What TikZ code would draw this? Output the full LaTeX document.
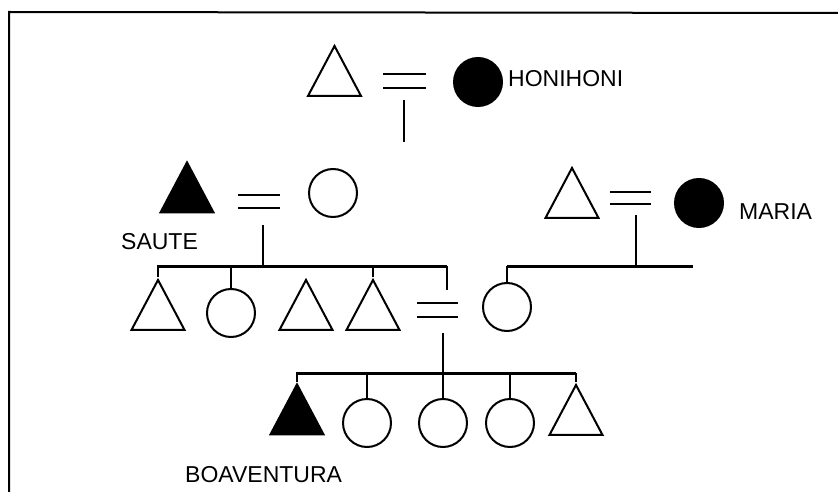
\documentclass[tikz,border=0pt]{standalone}
\usepackage{fontspec}
\setmainfont{Liberation Sans}
\usetikzlibrary{shapes.geometric}
\begin{document}
\begin{tikzpicture}[x=1pt,y=-1pt,
  tri/.style={draw, isosceles triangle, isosceles triangle stretches, shape border rotate=90,
    minimum width=53pt, minimum height=50pt, inner sep=0pt, line width=2pt, line join=miter},
  ftri/.style={tri, fill=black},
  circ/.style={draw, circle, minimum size=48pt, inner sep=0pt, line width=2pt},
  fcirc/.style={circ, fill=black},
  lbl/.style={font=\fontsize{23}{27}\selectfont, inner sep=0pt, anchor=west},
  ln/.style={line width=2.3pt},
  bar/.style={line width=3pt},
  eq/.style={line width=2.4pt}]
\useasboundingbox (0,0) rectangle (838,492);
% frame
\draw[line width=2pt] (9,492) -- (9,12) -- (838,13);

% generation 1
\node[tri] (hf) at (334.5,80) {};
\node[fcirc] (hm) at (478,82) {};
\node[lbl] (hl) at (508,79) {HONIHONI};
\draw[eq] (383,74) -- (426,74) (383,88) -- (426,88);
\coordinate (hd1) at (404,100);
\coordinate (hd2) at (404,142);
\draw[ln] (hd1) -- (hd2);

% generation 2 : Saute couple
\node[ftri] (sf) at (187,196.5) {};
\node[circ] (sm) at (333,193) {};
\node[lbl] (sl) at (121,242) {SAUTE};
\draw[eq] (238,195) -- (280,195) (238,208) -- (280,208);
\coordinate (sd) at (263,225);
\coordinate (b1l) at (157,266);
\coordinate (b1r) at (447,266);
\coordinate (b1d) at (447,290);
\draw[ln] (sd) -- (sd |- b1l);
\draw[bar] (b1l) -- (b1r);
\draw[ln] (b1r) -- (b1d);

% Maria couple
\node[tri] (mf) at (572,202) {};
\node[fcirc] (mm) at (699,203) {};
\node[lbl] (ml) at (739,212) {MARIA};
\draw[eq] (610,192) -- (651,192) (610,204) -- (651,204);
\coordinate (md) at (636,215);
\coordinate (b2l) at (507,266);
\coordinate (b2r) at (693,266);
\draw[ln] (md) -- (md |- b2r);
\draw[bar] (b2l) -- (b2r);

% generation 3
\node[tri] (c1) at (158,314) {};
\node[circ] (c2) at (231,313) {};
\node[tri] (c3) at (306,314) {};
\node[tri] (c4) at (373,314) {};
\node[circ] (c5) at (507,307) {};
\draw[ln] (c1.north) -- (c1.north |- b1l);
\draw[ln] (c2.north) -- (c2.north |- b1l);
\draw[ln] (c4.north) -- (c4.north |- b1l);
\draw[ln] (c5.north) -- (b2l);
\draw[eq] (417,303) -- (458,303) (417,317) -- (458,317);
\coordinate (cd) at (443,333);
\coordinate (b3l) at (296,373);
\coordinate (b3r) at (576,373);
\draw[ln] (cd) -- (cd |- b3l);
\draw[bar] (b3l) -- (b3r);

% generation 4
\node[ftri] (d1) at (297,418.5) {};
\node[circ] (d2) at (367,423) {};
\node[circ] (d3) at (443,423) {};
\node[circ] (d4) at (510,423) {};
\node[tri] (d5) at (576,419) {};
\node[lbl] (dl) at (185,475) {BOAVENTURA};
\foreach \n in {d1,d2,d3,d4,d5}
  \draw[ln] (\n.north) -- (\n.north |- b3l);
\end{tikzpicture}
\end{document}
